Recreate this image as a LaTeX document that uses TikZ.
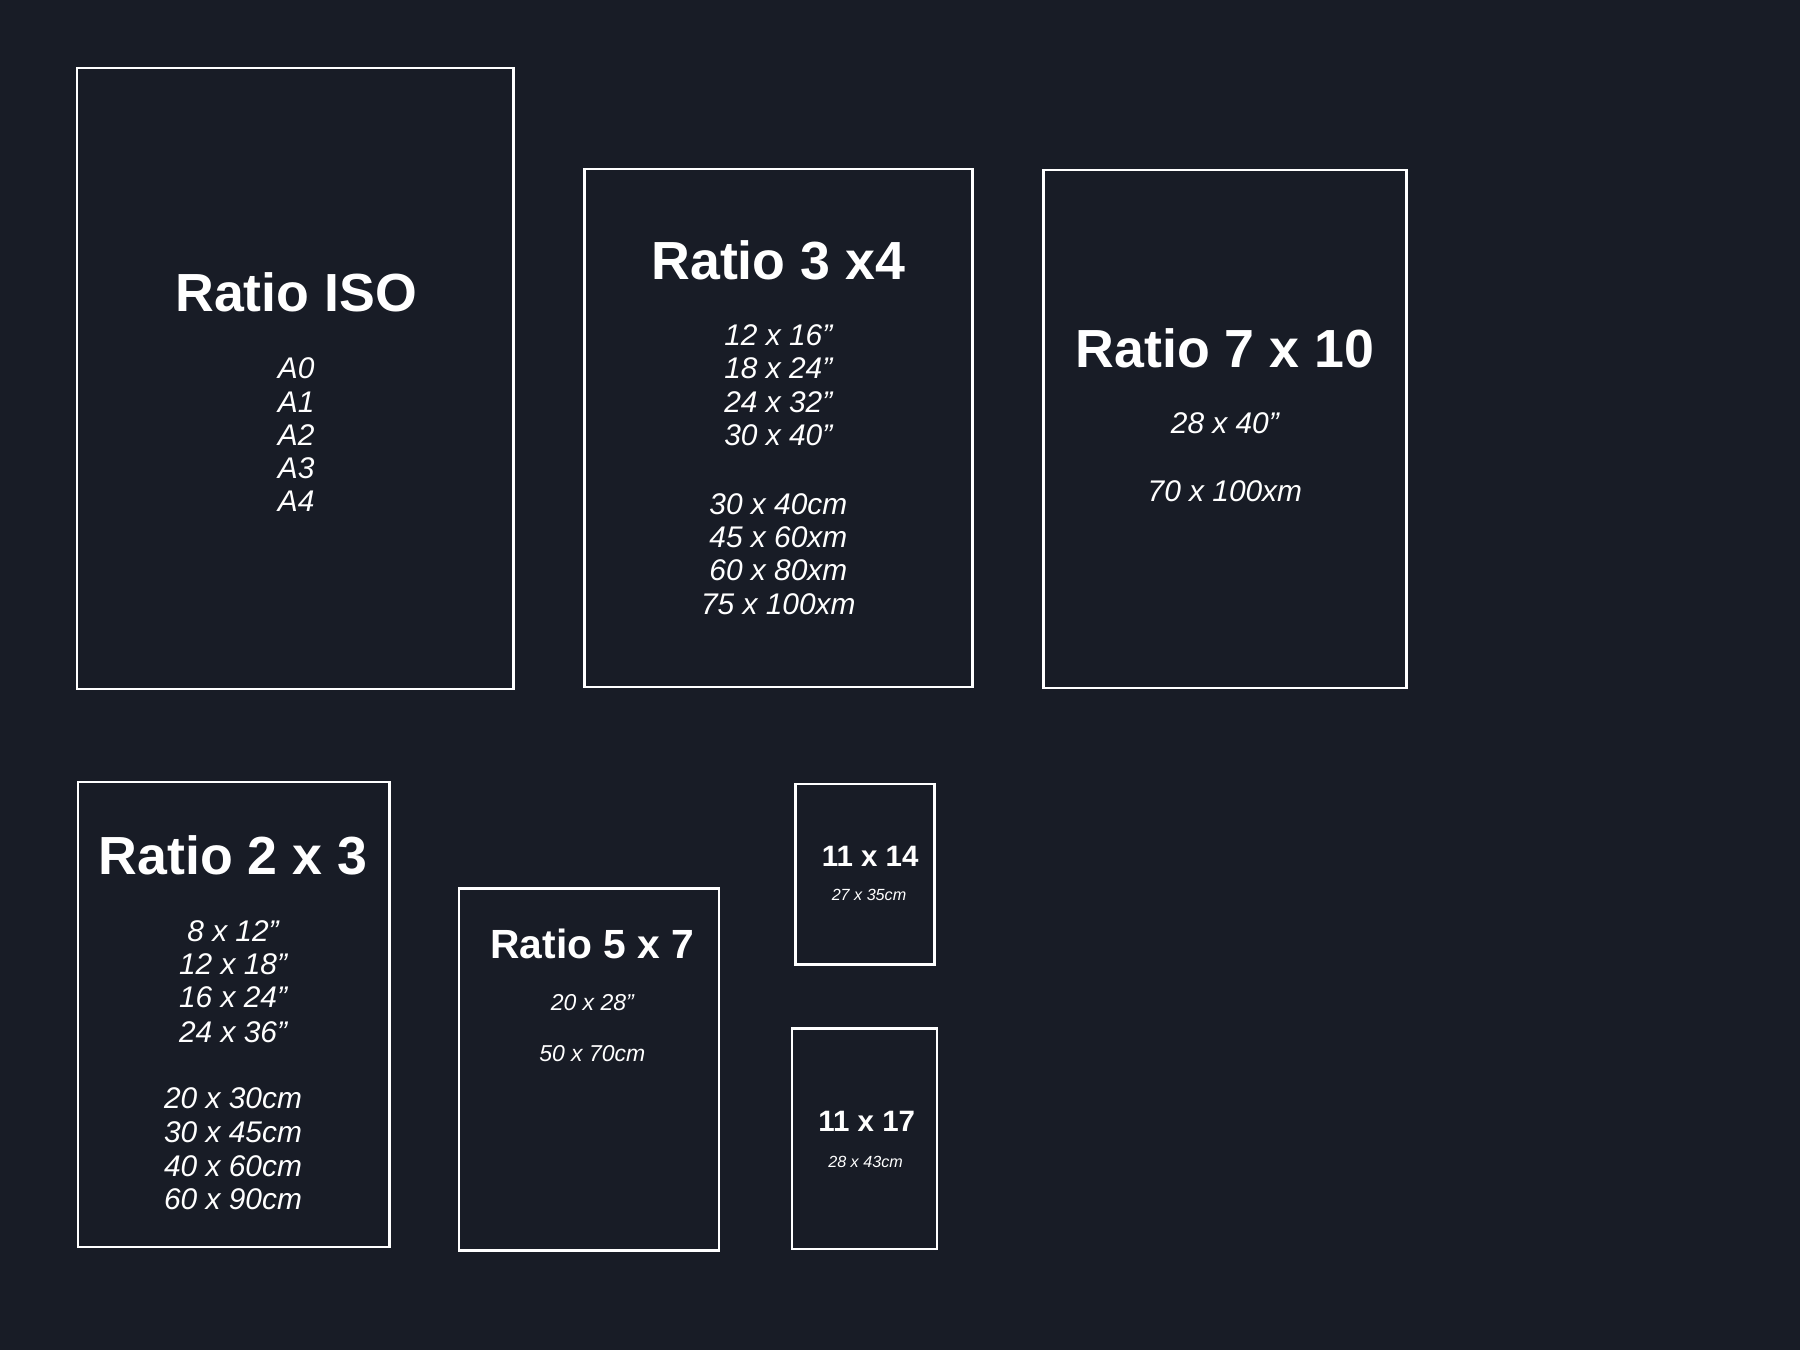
\documentclass[tikz,border=0pt]{standalone}
\usepackage{fontspec}
\setmainfont{Liberation Sans}
\usetikzlibrary{positioning}
\definecolor{bgdark}{HTML}{181C26}
\begin{document}
\begin{tikzpicture}[x=0.01cm,y=-0.01cm,
  frame/.style={draw=white,line width=0.6pt,inner sep=0pt,outer sep=0pt,anchor=north west},
  title/.style={text=white,font=\bfseries\fontsize{#1}{#1}\selectfont,inner sep=0pt},
  size/.style={text=white,font=\itshape\fontsize{#1}{#1}\selectfont,inner sep=0pt}]
\fill[bgdark] (0,0) rectangle (1568,1176);
\useasboundingbox (0,0) rectangle (1568,1176);

% frames
\node[frame,minimum width=3.80cm,minimum height=5.41cm] (iso) at (67,59) {};
\node[frame,minimum width=3.38cm,minimum height=4.51cm] (threefour) at (509,147) {};
\node[frame,minimum width=3.16cm,minimum height=4.51cm] (seventen) at (909,148) {};
\node[frame,minimum width=2.71cm,minimum height=4.05cm] (twothree) at (68,681) {};
\node[frame,minimum width=2.26cm,minimum height=3.15cm] (fiveseven) at (400,774) {};
\node[frame,minimum width=1.21cm,minimum height=1.57cm] (elevenfourteen) at (693,683) {};
\node[frame,minimum width=1.26cm,minimum height=1.92cm] (elevenseventeen) at (690,896) {};

% titles
\node[title=13.3pt] (isotitle) at (258,255) {Ratio ISO};
\node[title=13.3pt] (threefourtitle) at (678,227) {Ratio 3 x4};
\node[title=13.3pt] (sevententitle) at (1067,303) {Ratio 7 x 10};
\node[title=13.3pt] (twothreetitle) at (203,745) {Ratio 2 x 3};
\node[title=10.1pt] (fiveseventitle) at (516,822) {Ratio 5 x 7};
\node[title=7.3pt] (elevenfourteentitle) at (758,746) {11 x 14};
\node[title=7.3pt] (elevenseventeentitle) at (755,977) {11 x 17};

% sizes
\foreach \t [count=\i] in {A0,A1,A2,A3,A4}
  \node[size=7.4pt] (iso\i) at (258,292+29*\i) {\t};
\foreach \t/\y [count=\i] in {12 x 16”/292,18 x 24”/321,24 x 32”/350,30 x 40”/379,
    30 x 40cm/439,45 x 60xm/468,60 x 80xm/497,75 x 100xm/526}
  \node[size=7.4pt] (threefour\i) at (678,\y) {\t};
\node[size=7.4pt] (seventen1) at (1067,369) {28 x 40”};
\node[size=7.4pt] (seventen2) at (1067,428) {70 x 100xm};
\foreach \t/\y [count=\i] in {8 x 12”/811,12 x 18”/840,16 x 24”/869,24 x 36”/899,
    20 x 30cm/957,30 x 45cm/986,40 x 60cm/1016,60 x 90cm/1045}
  \node[size=7.4pt] (twothree\i) at (203,\y) {\t};
\node[size=5.7pt] (fiveseven1) at (516,873) {20 x 28”};
\node[size=5.7pt] (fiveseven2) at (516,918) {50 x 70cm};
\node[size=4pt] (elevenfourteen1) at (757,780) {27 x 35cm};
\node[size=4pt] (elevenseventeen1) at (754,1012) {28 x 43cm};
\end{tikzpicture}
\end{document}
